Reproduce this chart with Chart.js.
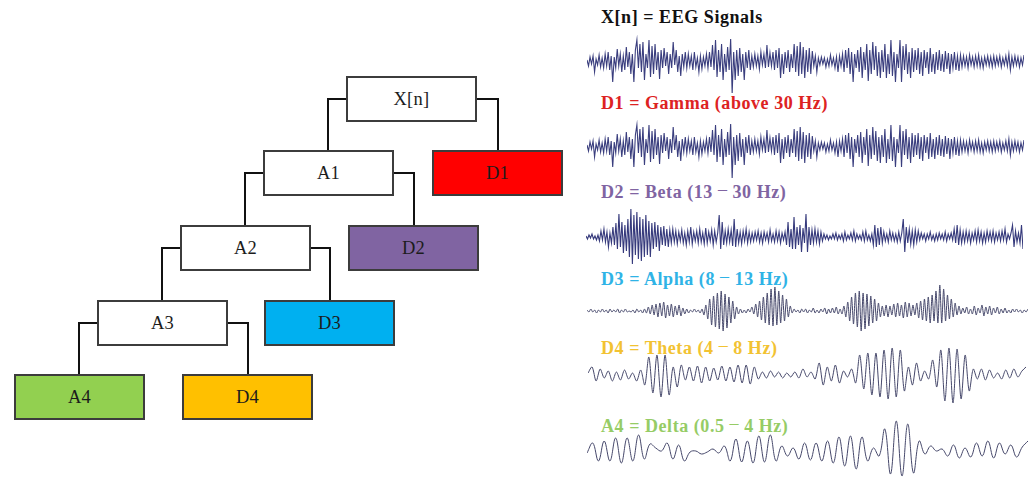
<!DOCTYPE html>
<html>
<head>
<meta charset="utf-8">
<script src="https://cdn.jsdelivr.net/npm/chart.js@4"></script>
<style>
  html, body { margin: 0; padding: 0; background: #fff; }
  body { width: 1033px; height: 477px; position: relative; overflow: hidden;
         font-family: "Liberation Serif", "DejaVu Serif", serif; }
  .box { position: absolute; box-sizing: border-box; border: 2px solid #3c3c3c;
         display: flex; align-items: center; justify-content: center;
         font-size: 18.5px; color: #1c1c1c; letter-spacing: 0.3px; }
  .wire { position: absolute; box-sizing: border-box; border: 0 solid #111; }
  .title { position: absolute; font-weight: bold; font-size: 18px; line-height: 18px;
           letter-spacing: 0.55px; white-space: nowrap; }
  .title .dash { position: relative; top: -3px; font-weight: normal; }
  canvas { position: absolute; }
</style>
</head>
<body>
<script>
// ---- Wavelet decomposition tree ----
const nodeNames = ['X[n]', 'A1', 'D1', 'A2', 'D2', 'A3', 'D3', 'A4', 'D4'];
const nodeFills = ['#ffffff', '#ffffff', '#ff0000', '#ffffff', '#8064a2', '#ffffff', '#00b0f0', '#92d050', '#ffc000'];
const nodeEdges = [['X[n]', 'A1'], ['X[n]', 'D1'], ['A1', 'A2'], ['A1', 'D2'], ['A2', 'A3'], ['A2', 'D3'], ['A3', 'A4'], ['A3', 'D4']];

// ---- Band titles ----
const bandTitles = ['X[n] = EEG Signals', 'D1 = Gamma (above 30 Hz)', 'D2 = Beta (13 – 30 Hz)',
                    'D3 = Alpha (8 – 13 Hz)', 'D4 = Theta (4 – 8 Hz)', 'A4 = Delta (0.5 – 4 Hz)'];
const bandColors = ['#111111', '#dd2222', '#8064a2', '#2fb3e6', '#f2c232', '#96cc66'];

// ---- Signal samples (amplitude units) ----
const rawEEG = [
  2,-4,5,-2,6,-10,3,-3,7,-5,4,-6,8,
  -4,10,-8,6,-20,5,-6,13,-4,8,-10,6,-8,
  15,-5,10,-12,8,-20,12,22,-6,
  18,-10,20,-18,8,-6,22,-15,16,-12,18,-8,10,-17,12,-6,
  14,-4,10,-12,8,-6,20,-3,12,-10,6,-14,8,-5,10,
  -6,8,-4,6,-8,10,-5,4,-10,6,-7,5,-4,8,-6,
  10,-5,17,-8,22,-15,12,-10,18,-18,8,
  -10,15,-8,23,-31,10,-18,12,-14,
  14,-10,8,-18,10,-6,12,-8,6,
  -5,8,-4,6,-7,10,-3,8,-6,17,-5,9,-4,
  10,-8,12,-6,14,-16,8,-12,10,-6,12,-10,8,
  -6,18,-10,16,-14,20,-12,15,-16,12,-10,14,-12,
  11,-4,6,-10,4,-3,5,-2,4,-5,3,-4,7,-3,4,-6,5,-10,6,-4,
  8,-10,12,-6,14,-12,10,-20,8,-6,12,
  -10,15,-16,10,-8,18,-19,12,-12,20,-8,16,-14,10,-16,12,-10,18,-16,8,-12,22,-14,10,-20,8,-6,
  22,-20,16,-8,18,-12,10,-16,14,
  -10,12,-8,14,-12,10,-14,12,-6,10,-12,14,-10,8,-12,10,-8,12,-9,8,-10,11,-7,9,-12,8,-6,10,-8,6,-9,
  7,-5,6,-4,5,-6,7,-3,5,-5,6,-4,7,-5,4,-6,5,-3,6,-4,5,-5,6,
  -4,5,-3,6,-5,4,-3,6,-4,8,-8,5,-4,6,-3,5,-5,4,-3,7
];

// The gamma detail carries the same fast activity as the raw record.
const gammaBand = rawEEG.slice();

const betaBand = [
  1,-2,2,-1,3,-2,1,-3,2,
  -4,6,-3,8,-5,5,-10,4,
  -6,10,-8,14,-12,23,-10,15,-16,12,-14,18,
  -20,28,-27,22,-18,25,-22,20,-24,18,-20,22,-18,16,-20,14,
  -12,15,-10,12,-14,10,-8,11,-9,8,-10,7,-6,
  8,-5,6,-7,5,-4,7,-6,4,-8,6,-5,10,-7,5,-4,6,-6,8,-5,4,-7,9,-6,5,-4,7,-8,6,-5,4,
  22,-12,15,-8,6,
  -6,8,-5,7,-9,18,-10,8,-6,5,-7,6,-4,8,-6,5,-5,4,
  -4,5,-3,6,-5,4,-6,5,-3,4,-5,7,-4,3,-5,6,-4,5,-6,4,-3,5,
  -8,15,-10,8,-12,20,-12,10,-8,12,-15,9,-6,
  23,-15,10,-8,
  7,-6,8,-5,6,-7,5,-4,
  3,-2,2,-3,1,-2,3,-2,4,-3,2,-2,3,-4,5,-3,2,-2,4,-3,6,-4,3,-2,2,-3,5,-4,6,-3,2,-4,3,
  -8,12,-10,9,-8,10,-6,
  5,-4,3,-5,6,-3,4,-4,3,-5,5,-4,4,
  18,-15,10,-6,
  8,-7,6,-8,7,-5,6,
  -3,4,-2,3,-4,3,-2,5,-3,2,-4,3,-3,4,-2,3,-3,5,-4,3,-2,4,-3,
  8,-6,12,-8,7,-6,5,
  -5,6,-4,5,-6,4,-3,6,-5,7,-4,5,-6,4,-5,6,-3,5,-4,6,-5,4,-3,5,-4,6,-3,
  8,-5,3,-2,4,
  12,-10,6,-5,4,-6,12,-12
];

const alphaBand = [
  1,-1,2,-1,1,-2,1,-1,2,-1,1,-2,2,-1,1,-1,2,-2,1,-1,2,-1,0,-1,1,-2,2,-1,1,-2,
  2,-2,4,-3,6,-4,7,-6,8,-5,9,-7,6,-5,
  7,-6,5,-4,6,-5,3,-3,2,-2,
  1,-1,2,-1,1,-2,2,
  -4,6,-8,12,-14,15,-16,18,-18,20,-20,17,-17,14,-12,10,-8,4,
  -3,2,-2,1,-2,2,-1,
  4,-3,7,-6,10,-9,14,-12,18,-14,22,-15,24,-14,20,-12,16,-10,12,-6,5,
  -2,2,-1,1,-2,2,-1,2,-2,1,-1,3,-2,1,-2,2,-1,3,-3,2,-2,3,-2,4,-3,2,-3,
  5,-6,9,-10,14,-13,18,-16,20,-20,18,-18,17,-15,15,-12,12,-10,8,-6,5,
  -5,6,-6,5,-4,7,-6,8,-5,6,-7,9,-6,8,-5,6,-4,
  8,-7,10,-9,12,-10,14,-12,16,-10,20,-12,26,-12,22,-10,16,-8,12,-6,8,-4,5,
  -3,3,-2,4,-3,2,-3,5,-4,3,-2,6,-5,4,-3,5,-4,3,-2,4,-3,2,-2,3,-2,1,-2,2,-1,2,-1,1,-2,1,-1,2
];

const thetaBand = [
  2,8,-6,6,-3,4,-6,3,-5,5,-4,2,-6,
  5,-10,18,-18,20,-22,20,-20,
  8,-12,
  10,-5,8,-6,9,-8,8,-6,7,-5,9,-6,8,-7,10,
  -8,10,-9,8,-4,3,-3,
  4,-2,3,-3,2,-2,3,-3,6,-2,3,-4,
  12,-10,8,-6,10,-8,4,-2,6,-8,
  20,-14,22,-20,22,-22,25,-24,27,-22,25,-16,8,
  -10,12,-6,4,-4,
  15,-12,25,-26,27,-28,26,-24,20,-16,
  6,-4,6,-5,5,-3,2,-4,5,-3,6,-2,4,8
];

const deltaBand = [
  -2,8,-10,10,-10,13,-12,13,-10,16,-8,7,3,0,8,-8,6,-10,-1,0,
  -3,-1,2,-2,5,-10,12,-11,10,-12,15,-11,16,-10,5,-5,3,-8,8,-9,
  8,-10,10,-12,14,-15,15,-18,14,-10,3,-5,22,-23,30,-25,27,-22,10,-3,
  5,0,2,-5,6,-7,3,-6,8,-5,10,-7,8,-3,6,-6,4,10
];

// ---- Build the tree ----
const BOX_W = 131, BOX_H = 46;
const nodeBoxes = {
  'X[n]': { left: 346, top: 76 },
  'A1':   { left: 263, top: 150 },
  'D1':   { left: 432, top: 150 },
  'A2':   { left: 180, top: 225 },
  'D2':   { left: 348, top: 225 },
  'A3':   { left: 97,  top: 300 },
  'D3':   { left: 264, top: 300 },
  'A4':   { left: 14,  top: 374 },
  'D4':   { left: 182, top: 374 }
};
const WIRE = 2.5;

nodeEdges.forEach(([from, to]) => {
  const p = nodeBoxes[from], c = nodeBoxes[to];
  const midY = p.top + BOX_H / 2;
  const cx = c.left + BOX_W / 2;
  const w = document.createElement('div');
  w.className = 'wire';
  w.style.top = (midY - WIRE / 2) + 'px';
  w.style.height = (c.top - midY + WIRE / 2) + 'px';
  w.style.borderTopWidth = WIRE + 'px';
  if (cx < p.left) {
    w.style.left = (cx - WIRE / 2) + 'px';
    w.style.width = (p.left - cx + WIRE / 2) + 'px';
    w.style.borderLeftWidth = WIRE + 'px';
  } else {
    const right = p.left + BOX_W;
    w.style.left = right + 'px';
    w.style.width = (cx - right + WIRE / 2) + 'px';
    w.style.borderRightWidth = WIRE + 'px';
  }
  document.body.appendChild(w);
});

nodeNames.forEach((name, i) => {
  const b = document.createElement('div');
  b.className = 'box';
  b.style.left = nodeBoxes[name].left + 'px';
  b.style.top = nodeBoxes[name].top + 'px';
  b.style.width = BOX_W + 'px';
  b.style.height = BOX_H + 'px';
  b.style.background = nodeFills[i];
  b.textContent = name;
  document.body.appendChild(b);
});

// ---- Titles ----
const titleTops = [8, 94, 183, 270, 339, 417];
bandTitles.forEach((t, i) => {
  const d = document.createElement('div');
  d.className = 'title';
  d.style.left = '601px';
  d.style.top = titleTops[i] + 'px';
  d.style.color = bandColors[i];
  const parts = t.split('–');
  d.appendChild(document.createTextNode(parts[0]));
  if (parts.length > 1) {
    const s = document.createElement('span');
    s.className = 'dash';
    s.textContent = '–';
    d.appendChild(s);
    d.appendChild(document.createTextNode(parts[1]));
  }
  document.body.appendChild(d);
});

// ---- Signal traces ----
const traces = [
  { data: rawEEG,    box: [587, 34, 437, 62],  range: [-34, 28], color: '#3a3e7e', width: 1.1, tension: 0 },
  { data: gammaBand, box: [587, 119, 437, 62], range: [-34, 28], color: '#3a3e7e', width: 1.1, tension: 0 },
  { data: betaBand,  box: [586, 206, 437, 60], range: [-29, 31], color: '#363a7c', width: 1.1, tension: 0 },
  { data: alphaBand, box: [587, 282, 441, 54], range: [-25, 29], color: '#45476a', width: 1,   tension: 0.25 },
  { data: thetaBand, box: [588, 340, 438, 70], range: [-35, 35], color: '#45476a', width: 1,   tension: 0.3 },
  { data: deltaBand, box: [587, 418, 441, 59], range: [-26, 33], color: '#45476a', width: 1,   tension: 0.4 }
];

traces.forEach(tr => {
  const cv = document.createElement('canvas');
  const [l, t, w, h] = tr.box;
  cv.width = w; cv.height = h;
  cv.style.left = l + 'px'; cv.style.top = t + 'px';
  cv.style.width = w + 'px'; cv.style.height = h + 'px';
  document.body.appendChild(cv);
  new Chart(cv, {
    type: 'line',
    data: {
      labels: tr.data.map((_, i) => i),
      datasets: [{
        data: tr.data,
        borderColor: tr.color,
        borderWidth: tr.width,
        pointRadius: 0,
        tension: tr.tension,
        fill: false
      }]
    },
    options: {
      responsive: false,
      animation: false,
      events: [],
      layout: { padding: 0 },
      plugins: { legend: { display: false }, tooltip: { enabled: false } },
      scales: {
        x: { display: false, offset: false },
        y: { display: false, min: tr.range[0], max: tr.range[1] }
      }
    }
  });
});
</script>
</body>
</html>
